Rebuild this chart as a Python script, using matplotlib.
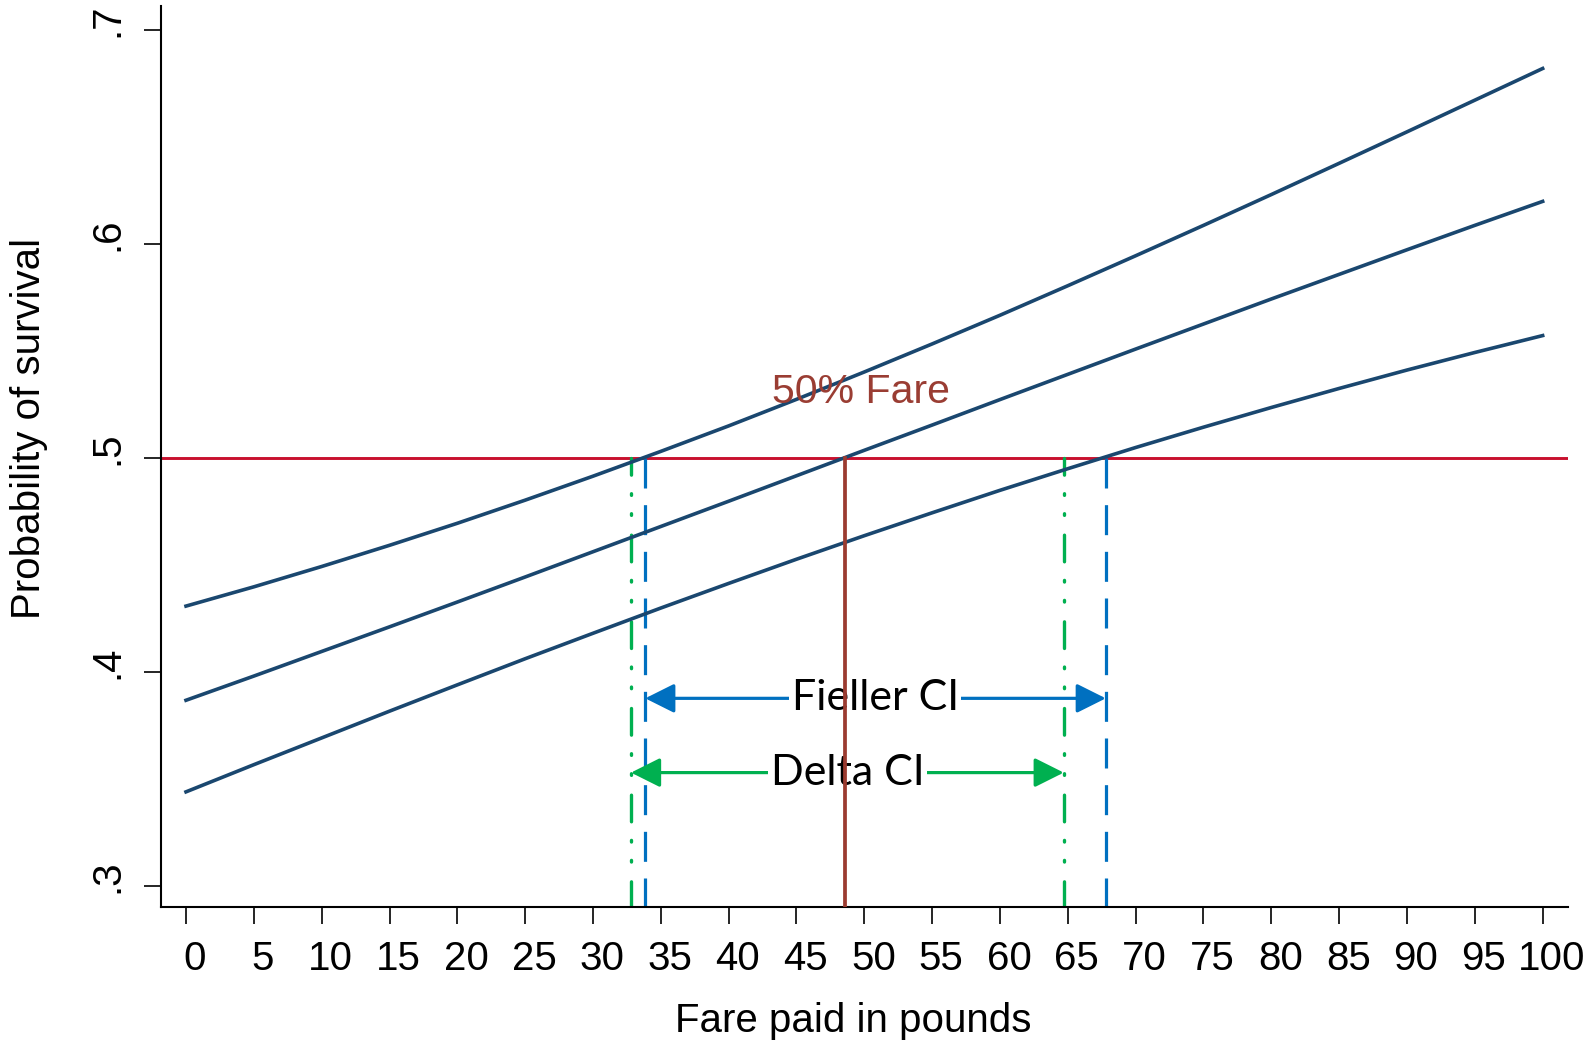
import matplotlib
matplotlib.use('Agg')
import matplotlib.pyplot as plt
from matplotlib.transforms import ScaledTranslation

# ---- data ----
fare = [0, 5, 10, 15, 20, 25, 30, 35, 40, 45, 50, 55, 60, 65, 70, 75, 80, 85, 90, 95, 100]
upper = [0.4308, 0.4398, 0.4493, 0.4592, 0.4695, 0.4803, 0.4915, 0.5031, 0.5150, 0.5274, 0.5402,
         0.5533, 0.5667, 0.5805, 0.5945, 0.6087, 0.6231, 0.6377, 0.6524, 0.6672, 0.6820]
fit = [0.3868, 0.3981, 0.4096, 0.4211, 0.4327, 0.4444, 0.4562, 0.4680, 0.4798, 0.4917, 0.5036,
       0.5154, 0.5273, 0.5391, 0.5509, 0.5626, 0.5743, 0.5858, 0.5973, 0.6087, 0.6199]
lower = [0.3440, 0.3567, 0.3692, 0.3817, 0.3940, 0.4062, 0.4181, 0.4299, 0.4414, 0.4527, 0.4637,
         0.4744, 0.4849, 0.4950, 0.5049, 0.5144, 0.5236, 0.5325, 0.5411, 0.5493, 0.5572]
p_level = 0.5
fare50 = 48.6
delta_ci = [32.8, 64.7]
fieller_ci = [33.85, 67.8]
fieller_y = 0.3877
delta_y = 0.353
xticks = list(range(0, 101, 5))
yticks = [0.3, 0.4, 0.5, 0.6, 0.7]
ytick_labels = ['.3', '.4', '.5', '.6', '.7']

plt.rcParams['font.family'] = ['Liberation Sans', 'DejaVu Sans']
plt.rcParams['lines.scale_dashes'] = False

W, H = 1596, 1040
fig = plt.figure(figsize=(W / 100, H / 100), dpi=100)
L, R, B, T = 160.7, 1568.3, 907, 6
ax = fig.add_axes([L / W, (H - B) / H, (R - L) / W, (B - T) / H])

ybot = 0.2902
ax.set_xlim(-1.865, 101.89)
ax.set_ylim(ybot, 0.7112)

navy = '#1a476f'
red = '#c8102e'
brown = '#9b3b30'
blue = '#0070c0'
green = '#00b050'

for s in (upper, fit, lower):
    ax.plot(fare, s, color=navy, lw=2.6, zorder=3)

ax.axhline(p_level, color=red, lw=2.1, zorder=2)

# vertical CI lines (drawn from the 0.5 level downward)
dd = (7.2, (19.2, 13.35, 1.2, 13.2, 1.2, 14.25))
for xv in delta_ci:
    ax.plot([xv, xv], [p_level, ybot], color=green, lw=2.4, linestyle=dd,
            dash_capstyle='round', zorder=2)
for xv in fieller_ci:
    ax.plot([xv, xv], [p_level, ybot], color=blue, lw=2.3, linestyle=(0, (21.6, 12)),
            dash_capstyle='butt', zorder=2)

# arrows
ax.annotate('', xy=(fieller_ci[0], fieller_y), xytext=(fieller_ci[1], fieller_y),
            arrowprops=dict(arrowstyle='<|-|>,head_length=0.4,head_width=0.2', color=blue,
                            lw=2.3, mutation_scale=45, shrinkA=0, shrinkB=0), zorder=4)
ax.annotate('', xy=(delta_ci[0], delta_y), xytext=(delta_ci[1], delta_y),
            arrowprops=dict(arrowstyle='<|-|>,head_length=0.4,head_width=0.2', color=green,
                            lw=2.3, mutation_scale=45, shrinkA=0, shrinkB=0), zorder=4)
ax.text(50.8, fieller_y, 'Fieller CI', fontsize=31, family=['Lato', 'DejaVu Sans'],
        ha='center', va='center', zorder=5,
        bbox=dict(facecolor='white', edgecolor='none', pad=2))
ax.text(48.75, delta_y, 'Delta CI', fontsize=31, family=['Lato', 'DejaVu Sans'],
        ha='center', va='center', zorder=5,
        bbox=dict(facecolor='white', edgecolor='none', pad=2))

# 50% fare line
ax.plot([fare50, fare50], [ybot, p_level], color=brown, lw=2.7, zorder=6)
ax.text(49.74, 0.5258, '50% Fare', fontsize=29.5, color='#9a3d33', ha='center', va='baseline', zorder=6)

# axes styling
for sp in ('top', 'right'):
    ax.spines[sp].set_visible(False)
for sp in ('left', 'bottom'):
    ax.spines[sp].set_linewidth(1.5)
ax.set_xticks(xticks)
ax.set_xticklabels([str(v) for v in xticks])
ax.set_yticks(yticks)
ax.set_yticklabels(ytick_labels)
ax.tick_params(axis='both', direction='out', length=11.9, width=1.2, labelsize=29, colors='black')
ax.tick_params(axis='x', pad=11.5)
ax.tick_params(axis='y', pad=13)
for lab in ax.get_yticklabels():
    lab.set_rotation(90)
    lab.set_va('center')
    lab.set_ha('right')
    lab.set_transform(lab.get_transform() + ScaledTranslation(0, 10 / 100, fig.dpi_scale_trans))
for lab in ax.get_xticklabels():
    lab.set_transform(lab.get_transform() + ScaledTranslation(9 / 100, 0, fig.dpi_scale_trans))

ax.set_xlabel('Fare paid in pounds', fontsize=29)
ax.xaxis.set_label_coords((853 - L) / (R - L), -(1002 - B) / (B - T))
ax.set_ylabel('Probability of survival', fontsize=29)
ax.yaxis.set_label_coords(-(L - 48) / (R - L), (B - 428) / (B - T))

fig.savefig('out.png', dpi=100)
